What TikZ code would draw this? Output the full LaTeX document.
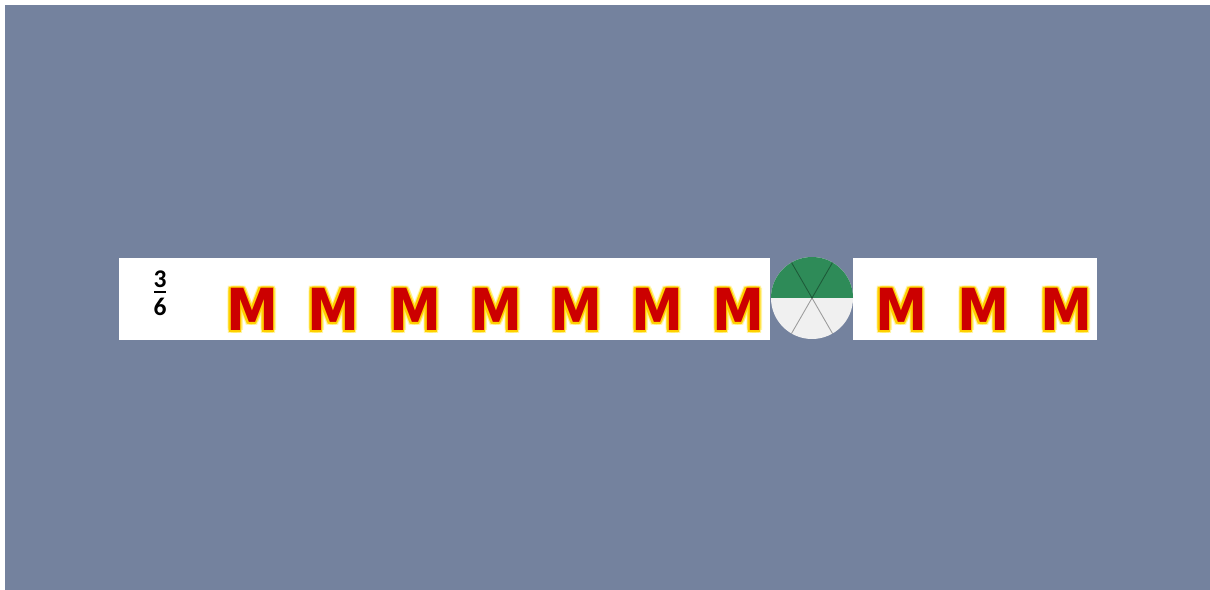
\documentclass[tikz,border=0pt]{standalone}
\usepackage{fontspec}
\setmainfont{Carlito}
\newfontfamily\letterfont[FakeStretch=0.9]{DejaVu Sans}
\usetikzlibrary{positioning}

\definecolor{slate}{RGB}{116,130,158}
\definecolor{mred}{RGB}{204,0,0}
\definecolor{mglow}{RGB}{255,208,0}
\definecolor{mhalo}{RGB}{255,236,90}
\definecolor{piegreen}{RGB}{46,139,88}
\definecolor{pielight}{RGB}{240,240,240}

\tikzset{
  card/.style={fill=white},
  letter/.style={font=\letterfont\fontsize{33}{33}\selectfont\bfseries, inner sep=0pt, anchor=base},
  digit/.style={font=\fontsize{14.5}{14.5}\selectfont\bfseries, inner sep=0pt},
  spoke/.style={draw=black, line width=0.5pt, opacity=0.35},
}

% one glowing letter: name, x, y
\newcommand{\glowM}[3]{%
  \foreach \a in {0,45,...,315}
    \node[letter, text=mhalo, text opacity=0.5] at ([shift={(\a:1.7pt)}]#2,#3) {M};
  \foreach \a in {0,45,...,315}
    \node[letter, text=mglow] at ([shift={(\a:0.9pt)}]#2,#3) {M};
  \node[letter, text=mred] (#1) at (#2,#3) {M};
}

\begin{document}
\begin{tikzpicture}[x=0.02cm, y=-0.02cm]

% Page and panel
\fill[white] (0,0) rectangle (1210,590);
\fill[slate] (5,5) rectangle (1210,590);
\useasboundingbox (0,0) rectangle (1210,590);

% Cards
\fill[card] (119,258) rectangle (770,340);
\fill[card] (853,258) rectangle (1097,340);

% Fraction 3/6
\node[digit] (num) at (160,279) {3};
\node[digit] (den) at (160,306.5) {6};
\coordinate (bar) at (160,292);
\draw[line width=1.2pt] (bar) ++(-6,0) -- ++(12,0);

% Pie, three of six parts
\coordinate (c) at (812,298);
\def\r{41}
\fill[pielight] (c) circle (\r);
\fill[piegreen] (c) ++(180:\r) arc (180:360:\r) -- cycle;
\foreach \a in {60,120,240,300}
  \draw[spoke] (c) -- ++(\a:\r);

% Letters
\foreach \x [count=\i] in {252,333,415,496,576,657,738,901,983,1066}
  \glowM{m\i}{\x}{331};

\end{tikzpicture}
\end{document}
